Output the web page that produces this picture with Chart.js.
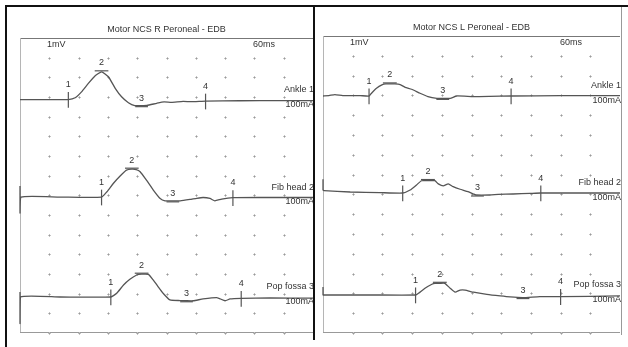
<!DOCTYPE html>
<html><head><meta charset="utf-8">
<script src="https://cdn.jsdelivr.net/npm/chart.js@4.4.0/dist/chart.umd.min.js"></script>
<style>
html,body{margin:0;padding:0;background:#fff;}
#wrap{position:relative;width:628px;height:347px;overflow:hidden;background:#fff;}
.c{position:absolute;top:0;}
.ln{position:absolute;background:#111;}
</style></head><body>
<div id="wrap">
<div class="c" style="left:0;width:316px;height:347px"><canvas id="cL" width="316" height="347"></canvas></div>
<div class="c" style="left:316px;width:312px;height:347px"><canvas id="cR" width="312" height="347"></canvas></div>
<div class="ln" style="left:5px;top:5px;width:623px;height:2px"></div>
<div class="ln" style="left:5px;top:5px;width:2px;height:342px"></div>
<div class="ln" style="left:313px;top:7px;width:2px;height:333px"></div>
<div class="ln" style="left:621px;top:7px;width:1px;height:328px;background:#999"></div>
</div>
<script>
// ---- text ----
const TITLE_RIGHT_SIDE = "Motor NCS R Peroneal - EDB";
const TITLE_LEFT_SIDE = "Motor NCS L Peroneal - EDB";
const GAIN_LABEL = "1mV";
const SWEEP_LABEL = "60ms";
const TRACE_NAMES = ["Ankle 1", "Fib head 2", "Pop fossa 3"];
const STIM_LABEL = "100mA";
const MARKER_LABELS = ["1", "2", "3", "4"];

// ---- axes (ms, divisions of 1 mV) ----
const SWEEP_MS = 60;
const X_DIVS = 10;
const Y_DIVS = 15;

// ---- Right peroneal traces (time ms, amplitude mV) ----
const R_ANKLE_T = [0,6.1,9.9,11.3,12.6,14.0,15.4,16.7,18.1,19.5,20.8,22.2,23.5,24.9,26.0,28.0,29.5,31.0,33.4,35.0,38.0,45,53.2,60];
const R_ANKLE_V = [0,0,0,0.09,0.39,0.82,1.21,1.41,1.16,0.57,0.14,-0.16,-0.31,-0.31,-0.3,-0.19,-0.12,-0.14,-0.09,-0.11,-0.08,-0.06,-0.05,-0.05];
const R_FIB_T = [0,0,0.2,8.2,16.7,17.8,19.1,20.5,21.8,22.9,23.8,24.6,25.9,27.3,28.7,29.7,31.3,32.8,34.8,36.2,37.5,38.9,39.9,41.3,43.6,49.2,60];
const R_FIB_V = [0.56,-0.81,0,0,0,0.27,0.69,1.07,1.37,1.42,1.4,1.29,0.86,0.36,-0.07,-0.19,-0.19,-0.19,-0.12,-0.06,-0.02,-0.07,-0.19,-0.1,-0.03,-0.02,-0.02];
const R_POP_T = [0,0,0.1,8.2,18.6,19.8,21.2,22.5,23.9,24.9,26.3,27.3,28.3,29.3,30.7,32.8,34.1,35.5,37.5,40.3,42.0,43.0,45.3,51.2,60];
const R_POP_V = [0.25,-1.35,0,0,0,0.19,0.61,0.9,1.12,1.16,1.15,0.86,0.52,0.19,-0.15,-0.18,-0.19,-0.19,-0.1,-0.03,-0.19,-0.1,-0.07,-0.05,-0.06];

// ---- Left peroneal traces ----
const L_ANKLE_T = [0,1.2,2.4,4,7.5,9.3,9.8,10.8,11.9,12.7,14.5,15.6,16.6,17.9,19.6,21.2,23.0,24.2,25.7,27.0,30.3,33.7,38.0,47.9,60];
const L_ANKLE_V = [0,0.02,0.07,0.02,0.02,0,0.14,0.39,0.56,0.61,0.61,0.58,0.44,0.34,0.14,-0.03,-0.12,-0.12,-0.12,0,-0.03,-0.02,0,0.02,0.02];
const L_FIB_T = [0,0,0.2,5.5,11.5,16.1,17.6,18.9,19.9,21.2,22.6,23.3,24.3,25.3,26.3,27.7,29.3,30.4,30.9,33.7,35.4,38.4,41.8,44.0,60];
const L_FIB_V = [0.7,0.15,0.12,0.05,0.02,0,0.15,0.41,0.62,0.63,0.62,0.46,0.36,0.46,0.32,0.19,0.07,-0.05,-0.1,-0.1,-0.07,-0.05,-0.02,0,0];
const L_POP_T = [0,0,0.2,9.5,18.7,19.3,20.6,22.0,22.6,23.6,24.6,25.7,26.7,27.7,28.7,30.4,33.1,35.8,37.8,40.4,43.8,48.0,60];
const L_POP_V = [0.4,0,0,0,0,0.09,0.34,0.54,0.59,0.59,0.59,0.34,0.14,0.25,0.25,0.14,0.03,-0.05,-0.1,-0.13,-0.08,-0.08,-0.05];

// ---- cursor markers 1-4 (ms) ----
const R_MARKERS = [[9.9,16.7,24.9,38.0],[16.7,22.9,31.3,43.6],[18.6,24.9,34.1,45.3]];
const L_MARKERS = [[9.3,13.5,24.2,38.0],[16.1,21.2,31.2,44.0],[18.7,23.6,40.4,48.0]];

// ---- trace baselines (divisions from bottom) ----
const R_BASE = [11.87, 6.91, 1.83];
const L_BASE = [11.97, 7.07, 1.92];

const TRACE_COLOR = "#555";
const TEXT_COLOR = "#333";
const FONT = "9px 'Liberation Sans', Arial, sans-serif";

function valAt(T, V, t) {
  for (let i = 0; i < T.length - 1; i++) {
    if (T[i + 1] > T[i] && t >= T[i] && t <= T[i + 1]) {
      return V[i] + (V[i + 1] - V[i]) * (t - T[i]) / (T[i + 1] - T[i]);
    }
  }
  return V[V.length - 1];
}

function makeChart(id, title, traces, bases, markers, pad) {
  const datasets = traces.map((tr, k) => ({
    data: tr[0].map((t, i) => ({ x: t, y: tr[1][i] + bases[k] })),
    borderColor: TRACE_COLOR, borderWidth: 1.3, pointRadius: 0,
    showLine: true, tension: 0.15, clip: 6
  }));
  const deco = {
    id: 'deco',
    beforeDatasetsDraw(chart) {
      const { ctx, chartArea: a, scales: { x, y } } = chart;
      ctx.save();
      ctx.strokeStyle = "#777"; ctx.lineWidth = 1;
      ctx.beginPath(); ctx.moveTo(a.left, a.top + 0.5); ctx.lineTo(a.right, a.top + 0.5); ctx.stroke();
      ctx.strokeStyle = "#b5b5b5";
      ctx.beginPath(); ctx.moveTo(a.left + 0.5, a.top); ctx.lineTo(a.left + 0.5, a.bottom); ctx.stroke();
      ctx.strokeStyle = "#999";
      ctx.beginPath(); ctx.moveTo(a.left, a.bottom - 0.5); ctx.lineTo(a.right, a.bottom - 0.5); ctx.stroke();
      // grid dots
      for (let i = 1; i < X_DIVS; i++) {
        const px = Math.round(x.getPixelForValue(i * SWEEP_MS / X_DIVS));
        for (let j = 0; j < Y_DIVS; j++) {
          const py = Math.round(y.getPixelForValue(j));
          ctx.fillStyle = "#c4c4c4";
          ctx.fillRect(px - 1, py, 3, 1);
          ctx.fillRect(px, py - 1, 1, 3);
          ctx.fillStyle = "#9a9a9a";
          ctx.fillRect(px, py, 1, 1);
        }
      }
      ctx.restore();
    },
    afterDatasetsDraw(chart) {
      const { ctx, chartArea: a, scales: { x, y } } = chart;
      ctx.save();
      ctx.font = FONT; ctx.fillStyle = TEXT_COLOR;
      ctx.textBaseline = "middle";
      ctx.textAlign = "center";
      ctx.fillText(title, (a.left + a.right) / 2, a.top - 8);
      ctx.textAlign = "left";
      ctx.fillText(GAIN_LABEL, a.left + 27, a.top + 7);
      ctx.textAlign = "right";
      ctx.fillText(SWEEP_LABEL, a.right - 38, a.top + 7);
      traces.forEach((tr, k) => {
        const base = y.getPixelForValue(bases[k]);
        ctx.textAlign = "right";
        ctx.fillStyle = TEXT_COLOR;
        ctx.fillText(TRACE_NAMES[k], a.right + 1, base - 10);
        ctx.fillText(STIM_LABEL, a.right + 1, base + 4.5);
        ctx.strokeStyle = TRACE_COLOR; ctx.lineWidth = 1.2;
        markers[k].forEach((t, m) => {
          const v = valAt(tr[0], tr[1], t) + bases[k];
          const px = x.getPixelForValue(t);
          const py = y.getPixelForValue(v);
          ctx.beginPath();
          let ly;
          if (m === 0 || m === 3) {
            ctx.moveTo(px, y.getPixelForValue(v + 0.38));
            ctx.lineTo(px, y.getPixelForValue(v - 0.42));
            ly = y.getPixelForValue(v + 0.75);
          } else if (m === 1) {
            ctx.moveTo(x.getPixelForValue(t - 1.4), py - 1);
            ctx.lineTo(x.getPixelForValue(t + 1.4), py - 1);
            ly = y.getPixelForValue(v + 0.45);
          } else {
            ctx.moveTo(x.getPixelForValue(t - 1.3), py + 1);
            ctx.lineTo(x.getPixelForValue(t + 1.3), py + 1);
            ly = y.getPixelForValue(v + 0.38);
          }
          ctx.stroke();
          ctx.textAlign = "center";
          ctx.fillText(MARKER_LABELS[m], px, ly);
        });
      });
      ctx.restore();
    }
  };
  return new Chart(document.getElementById(id), {
    type: 'scatter',
    data: { datasets },
    options: {
      responsive: false, animation: false,
      layout: { padding: pad },
      plugins: { legend: { display: false }, tooltip: { enabled: false }, title: { display: false } },
      scales: {
        x: { type: 'linear', min: 0, max: SWEEP_MS, display: false },
        y: { type: 'linear', min: 0, max: Y_DIVS, display: false }
      }
    },
    plugins: [deco]
  });
}

makeChart('cL', TITLE_RIGHT_SIDE,
  [[R_ANKLE_T, R_ANKLE_V], [R_FIB_T, R_FIB_V], [R_POP_T, R_POP_V]],
  R_BASE, R_MARKERS, { left: 20, right: 3, top: 38, bottom: 14 });
makeChart('cR', TITLE_LEFT_SIDE,
  [[L_ANKLE_T, L_ANKLE_V], [L_FIB_T, L_FIB_V], [L_POP_T, L_POP_V]],
  L_BASE, L_MARKERS, { left: 7, right: 8, top: 36, bottom: 14 });
</script>
</body></html>
